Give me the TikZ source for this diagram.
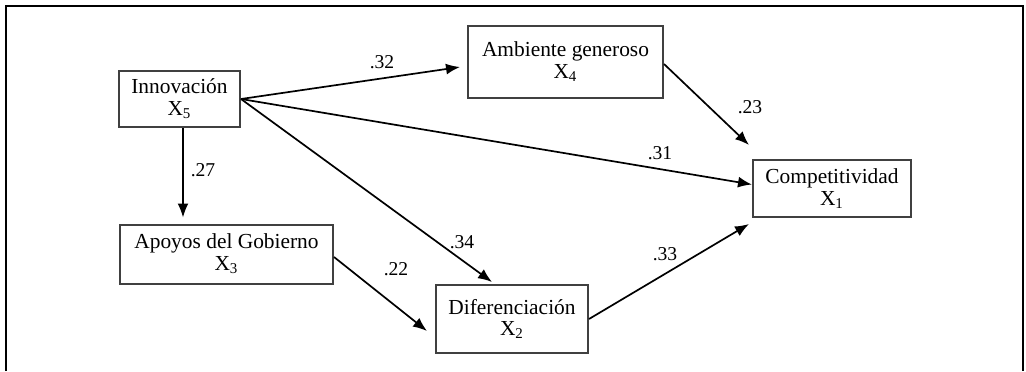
\documentclass[tikz,border=0pt]{standalone}
\usepackage{fontspec}
\setmainfont{Liberation Serif}
\usetikzlibrary{arrows.meta,calc}
\tikzset{
  varbox/.style={draw=black!75, line width=1pt, fill=white, align=center,
    inner sep=0pt, font=\fontsize{10.7}{10.8}\selectfont},
  path/.style={draw=black, line width=0.85pt, -{Latex[length=7pt,width=5.5pt]}},
  coef/.style={font=\fontsize{9.8}{11}\selectfont, inner sep=0pt}
}
\begin{document}
\begin{tikzpicture}[x=0.5pt,y=-0.5pt]
\useasboundingbox (0,0) rectangle (1026,371);
\draw[line width=1.1pt] (6,371) -- (6,6) -- (1023,6) -- (1023,371);

\node[varbox, minimum width=60.5pt, minimum height=28pt] (X5) at (179.5,99) {Innovación\\X\textsubscript{5}};
\node[varbox, minimum width=106.5pt, minimum height=29.5pt] (X3) at (226.5,254) {Apoyos del Gobierno\\X\textsubscript{3}};
\node[varbox, minimum width=76pt, minimum height=34pt] (X2) at (512,319) {Diferenciación\\X\textsubscript{2}};
\node[varbox, minimum width=97.5pt, minimum height=36pt] (X4) at (565.5,62) {Ambiente generoso\\X\textsubscript{4}};
\node[varbox, minimum width=79pt, minimum height=28.5pt] (X1) at (832,188.5) {Competitividad\\X\textsubscript{1}};

\draw[path] (X5.east) -- ($(X4.west)+(-7,5)$);
\draw[path] (X5.east) -- ($(X1.west)+(0,-4)$);
\draw[path] (X5.east) -- ($(X2.north)+(-20,-2)$);
\draw[path] ($(X5.south)+(3.5,0)$) -- ($(X3.north)+(-43.5,-6)$);
\draw[path] ($(X3.east)+(0,3)$) -- ($(X2.west)+(-8,12)$);
\draw[path] (X2.east) -- ($(X1.south west)+(-3,6)$);
\draw[path] ($(X4.east)+(0,2)$) -- ($(X1.north west)+(-3,-14)$);

\node[coef] (c32) at (382,62) {.32};
\node[coef] (c31) at (660,153) {.31};
\node[coef] (c34) at (462,242) {.34};
\node[coef] (c27) at (203,170) {.27};
\node[coef] (c22) at (396,269) {.22};
\node[coef] (c33) at (665,254) {.33};
\node[coef] (c23) at (750,107) {.23};
\end{tikzpicture}
\end{document}
